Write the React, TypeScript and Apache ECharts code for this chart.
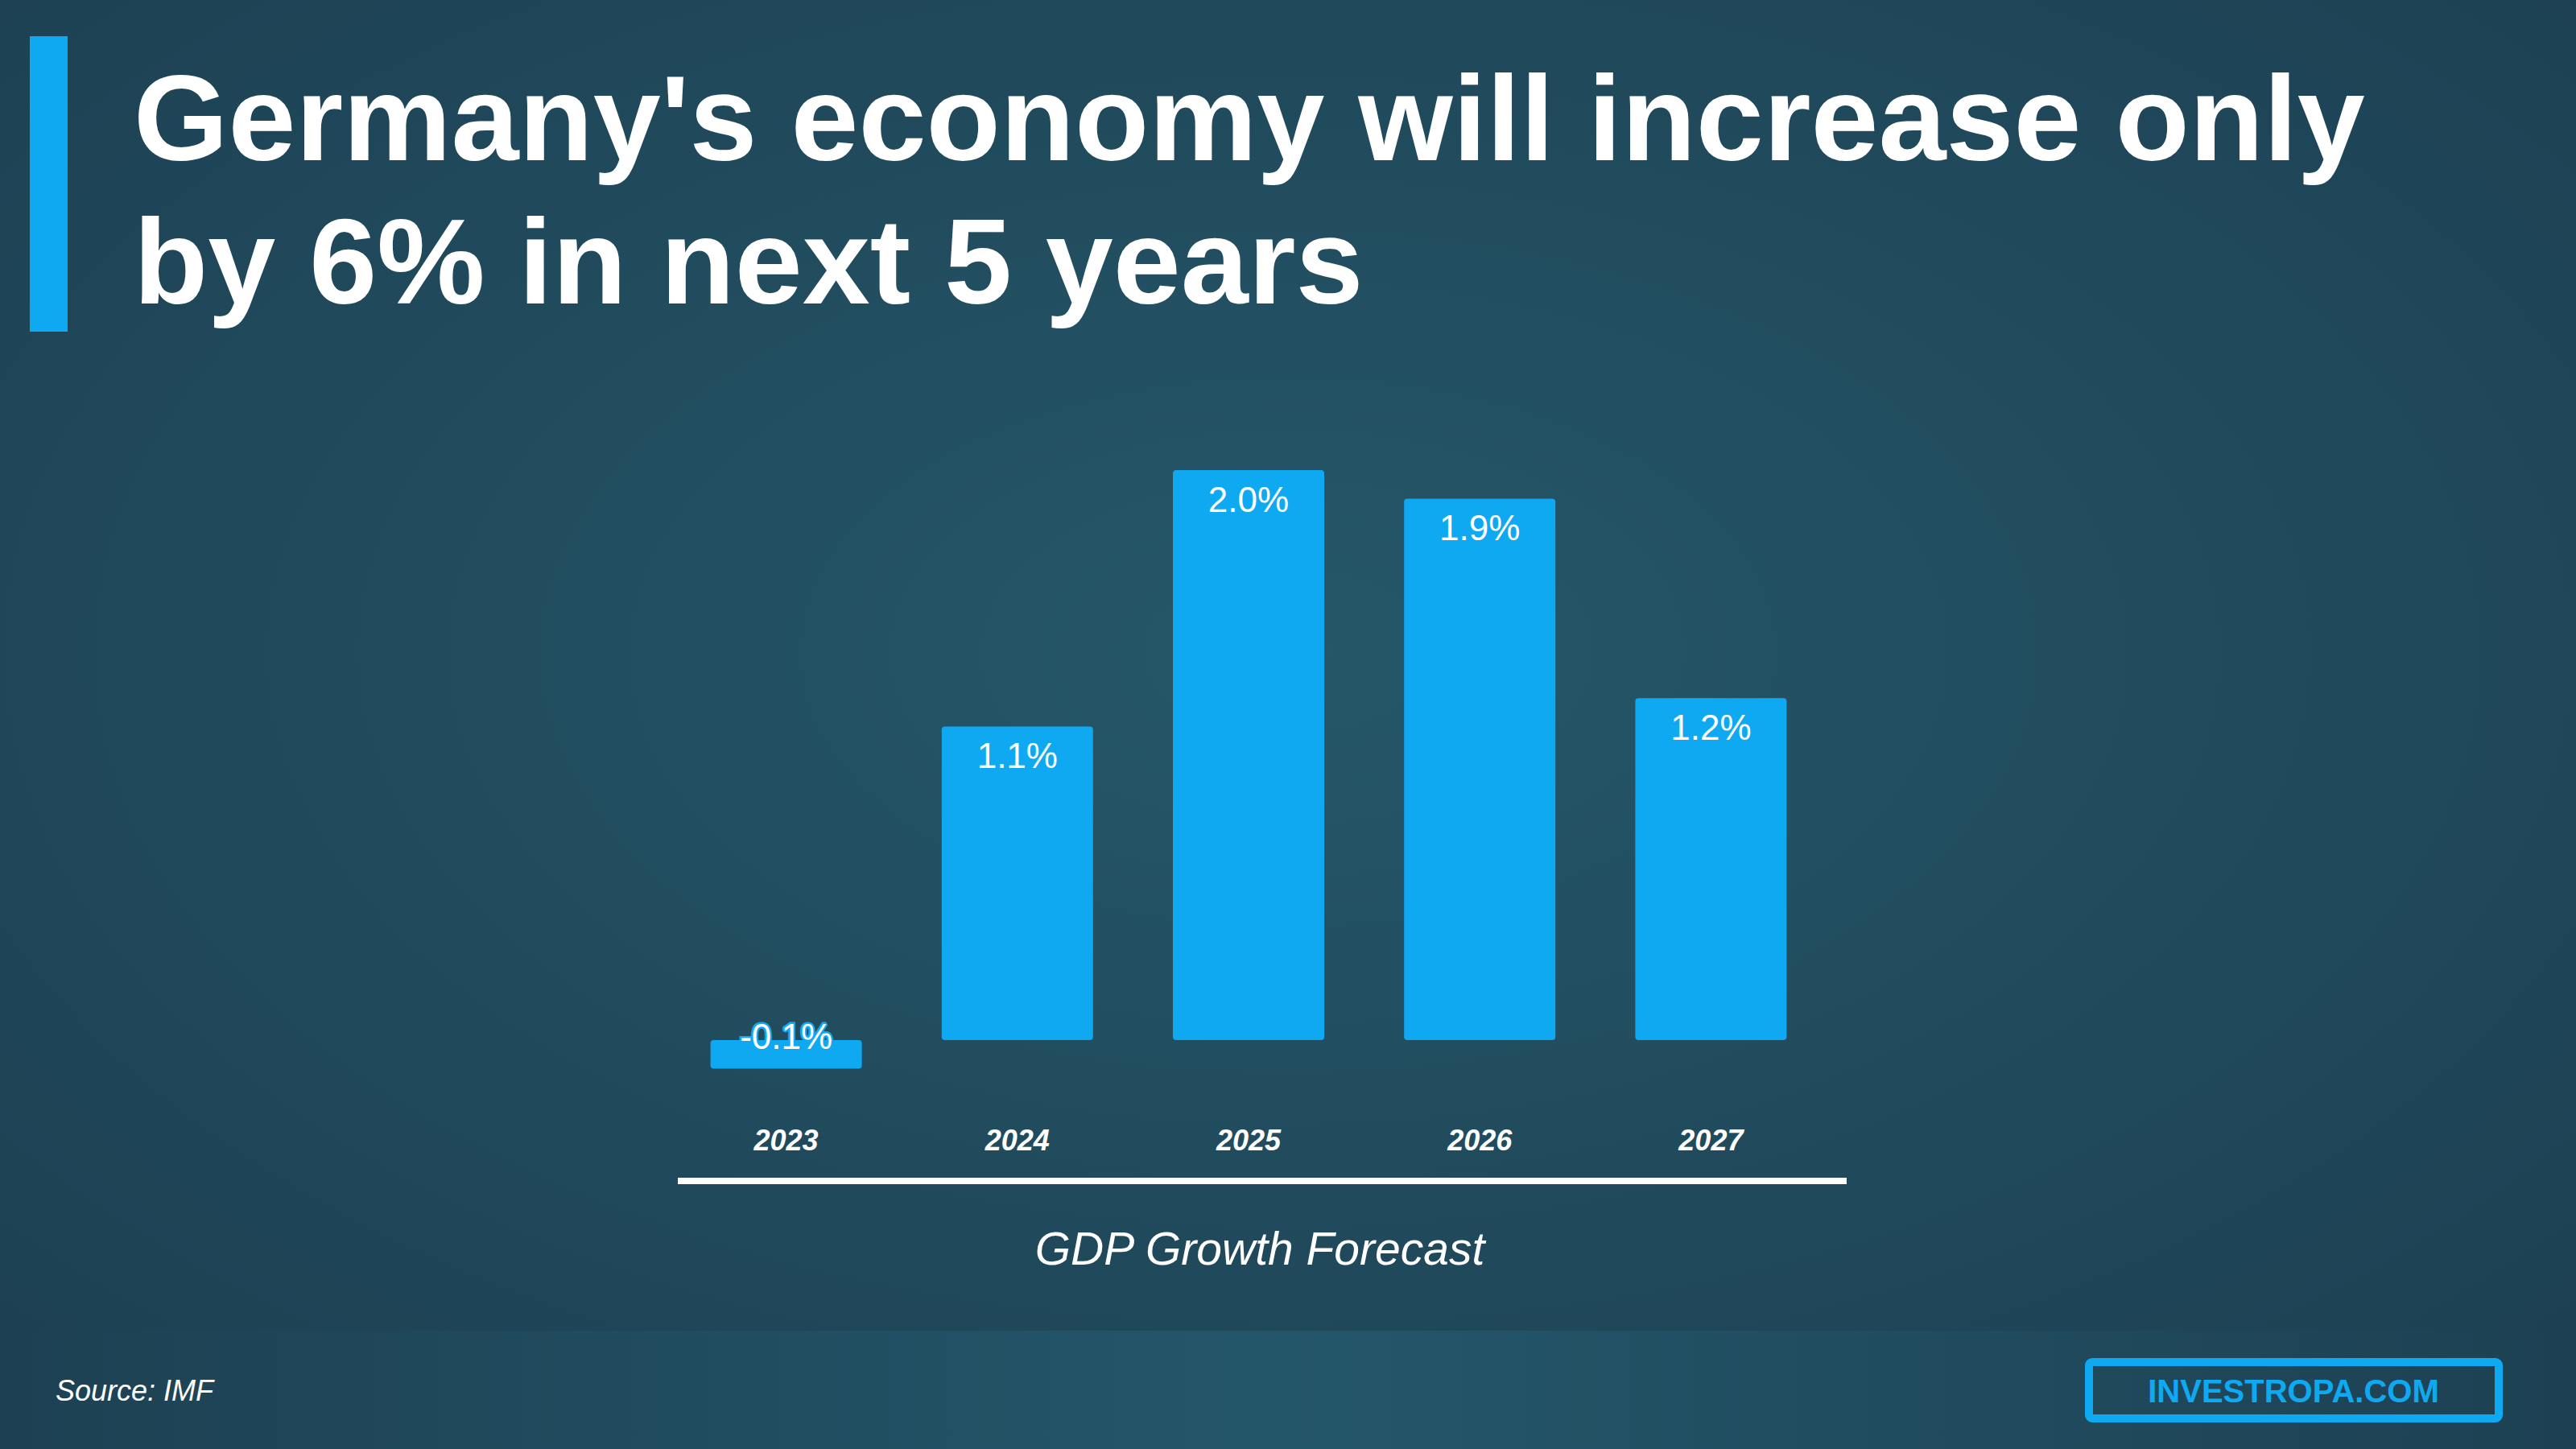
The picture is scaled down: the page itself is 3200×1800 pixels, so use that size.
import React, { useEffect, useRef } from "react";
import * as echarts from "echarts";

const categories = ["2023", "2024", "2025", "2026", "2027"];
const growth = [-0.1, 1.1, 2.0, 1.9, 1.2];
const titleLines = ["Germany's economy will increase only", "by 6% in next 5 years"];
const axisTitle = "GDP Growth Forecast";
const sourceText = "Source: IMF";
const brandText = "INVESTROPA.COM";

const BLUE = "#0FA9F2";
const FONT = "'Liberation Sans', Arial, sans-serif";

export default function App() {
  const ref = useRef<HTMLDivElement>(null);
  useEffect(() => {
    document.body.style.margin = "0";
    const chart = echarts.init(ref.current!, null, { renderer: "svg" });
    const seriesData = growth.map((v) =>
      v < 0
        ? {
            value: v,
            label: {
              position: "inside",
              offset: [0, -22],
              textBorderColor: BLUE,
              textBorderWidth: 5,
            },
          }
        : { value: v }
    );
    chart.setOption({
      animation: false,
      backgroundColor: {
        type: "radial",
        x: 0.5,
        y: 0.45,
        r: 0.75,
        colorStops: [
          { offset: 0, color: "#255769" },
          { offset: 1, color: "#1C3F51" },
        ],
      },
      grid: { left: 833, right: 931, top: 407, bottom: 331, containLabel: false },
      xAxis: {
        type: "category",
        data: categories,
        axisLine: { show: false, onZero: false },
        axisTick: { show: false },
        splitLine: { show: false },
        axisLabel: {
          inside: true,
          margin: 35,
          color: "#FFFFFF",
          fontFamily: FONT,
          fontWeight: "bold",
          fontStyle: "italic",
          fontSize: 36,
        },
      },
      yAxis: {
        type: "value",
        min: -0.5,
        max: 2.5,
        show: false,
        splitLine: { show: false },
      },
      series: [
        {
          type: "bar",
          data: seriesData,
          barWidth: 188,
          itemStyle: { color: BLUE, borderRadius: 4 },
          label: {
            show: true,
            position: "insideTop",
            distance: 14,
            color: "#FFFFFF",
            fontFamily: FONT,
            fontSize: 44,
            formatter: (p: any) => Number(p.value).toFixed(1) + "%",
          },
        },
      ],
      graphic: [
        {
          type: "rect",
          z: -10,
          shape: { x: 0, y: 1653, width: 3200, height: 147 },
          style: {
            fill: {
              type: "linear",
              x: 0,
              y: 0,
              x2: 1,
              y2: 0,
              colorStops: [
                { offset: 0, color: "#1D4153" },
                { offset: 0.5, color: "#24566A" },
                { offset: 1, color: "#1D4153" },
              ],
            },
          },
        },
        {
          type: "rect",
          shape: { x: 37, y: 45, width: 47, height: 367 },
          style: { fill: BLUE },
        },
        {
          type: "text",
          x: 166,
          y: 146,
          style: {
            text: titleLines[0],
            fill: "#FFFFFF",
            font: `bold 151px ${FONT}`,
            verticalAlign: "middle",
            align: "left",
          },
        },
        {
          type: "text",
          x: 166,
          y: 324,
          style: {
            text: titleLines[1],
            fill: "#FFFFFF",
            font: `bold 151px ${FONT}`,
            verticalAlign: "middle",
            align: "left",
          },
        },
        {
          type: "line",
          shape: { x1: 842, y1: 1467, x2: 2294, y2: 1467 },
          style: { stroke: "#FFFFFF", lineWidth: 8 },
        },
        {
          type: "text",
          x: 1565,
          y: 1551,
          style: {
            text: axisTitle,
            fill: "#FFFFFF",
            font: `italic 57px ${FONT}`,
            align: "center",
            verticalAlign: "middle",
          },
        },
        {
          type: "text",
          x: 69,
          y: 1727,
          style: {
            text: sourceText,
            fill: "#FFFFFF",
            font: `italic 36px ${FONT}`,
            align: "left",
            verticalAlign: "middle",
          },
        },
        {
          type: "rect",
          shape: { x: 2595, y: 1692, width: 509, height: 70, r: 4 },
          style: { fill: "none", stroke: BLUE, lineWidth: 10 },
        },
        {
          type: "text",
          x: 2849,
          y: 1728,
          style: {
            text: brandText,
            fill: BLUE,
            font: `bold 40px ${FONT}`,
            align: "center",
            verticalAlign: "middle",
          },
        },
      ],
    });
    return () => chart.dispose();
  }, []);
  return <div ref={ref} style={{ width: 3200, height: 1800 }} />;
}
